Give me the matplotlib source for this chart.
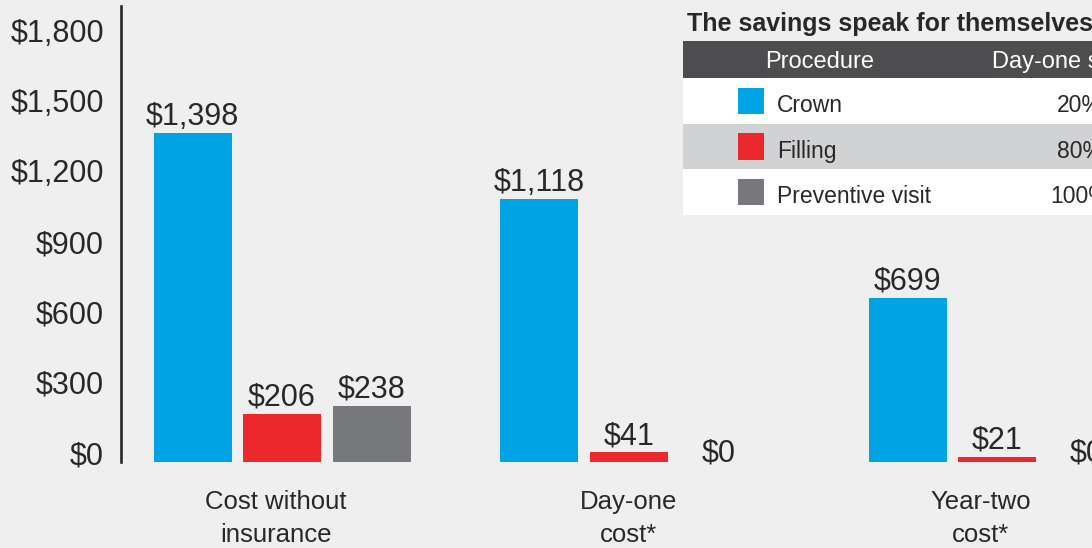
import matplotlib
matplotlib.use("Agg")
import matplotlib.pyplot as plt
import numpy as np
from matplotlib.patches import Rectangle
from matplotlib.transforms import ScaledTranslation

# ---- data ----
categories = ["Cost without\ninsurance", "Day-one\ncost*", "Year-two\ncost*"]
crown = [1398, 1118, 699]
filling = [206, 41, 21]
preventive = [238, 0, 0]
series_names = ["Crown", "Filling", "Preventive visit"]
day_one_savings = [20, 80, 100]
y_ticks = [0, 300, 600, 900, 1200, 1500, 1800]
y_tick_labels = ["$0", "$300", "$600", "$900", "$1,200", "$1,500", "$1,800"]
table_title = "The savings speak for themselves"
table_headers = ["Procedure", "Day-one savings"]

# ---- style ----
BG = "#efefef"
TXT = "#2a2728"
COLORS = ["#00a4e4", "#eb292d", "#77787b"]
plt.rcParams["font.family"] = ["Liberation Sans", "DejaVu Sans"]

W, H = 1092, 548
fig = plt.figure(figsize=(W / 100, H / 100), dpi=100, facecolor=BG)

# main axes: left spine at x=120.7px, from y=6px to y=462px
ax_left, ax_top, ax_bottom = 120.7, 6, 462
ax = fig.add_axes([ax_left / W, (H - ax_bottom) / H, (W - ax_left) / W, (ax_bottom - ax_top) / H])
ax.set_facecolor(BG)
ax.patch.set_alpha(0)

unit = 350.0  # px per group
group_x = np.array([0.0, 0.9914, 2.0429])
label_x = np.array([-0.0171, 0.9914, 1.9971])
offset = 89.5 / unit
width = 78 / unit

for i, vals in enumerate([crown, filling, preventive]):
    xs = group_x + (i - 1) * offset
    ax.bar(xs, vals, width=width, color=COLORS[i], linewidth=0)
    for x, v in zip(xs, vals):
        ax.annotate(f"${v:,}", (x, v), xytext=(0, 6 if v > 0 else 0),
                    textcoords="offset points", ha="center", va="baseline",
                    fontsize=22, color=TXT)

ax.set_xlim((ax_left - 282) / unit, (W - 282) / unit)
ax.set_ylim(0, (ax_bottom - ax_top) / 0.235)

ax.set_yticks(y_ticks)
ax.set_yticklabels(y_tick_labels, fontsize=22, color=TXT)
ax.set_xticks(label_x)
ax.set_xticklabels(categories, fontsize=18.5, color=TXT, linespacing=1.48)
ax.tick_params(axis="y", length=0, pad=12)
ax.tick_params(axis="x", length=0, pad=20)
shift = ScaledTranslation(0, 0.09, fig.dpi_scale_trans)
for lab in ax.get_yticklabels():
    lab.set_transform(lab.get_transform() + shift)

for s in ["top", "right", "bottom"]:
    ax.spines[s].set_visible(False)
ax.spines["left"].set_color(TXT)
ax.spines["left"].set_linewidth(1.9)

# ---- table ----
t_left, t_right, t_top, t_bottom = 683, 1180, 41, 215
tax = fig.add_axes([t_left / W, (H - t_bottom) / H, (t_right - t_left) / W, (t_bottom - t_top) / H])
tax.set_axis_off()
hdr_h = 0.81
n = len(series_names)
tax.set_xlim(0, 1)
tax.set_ylim(hdr_h + n, 0)

row_colors = ["white", "#d1d2d4", "white"]
tax.add_patch(Rectangle((0, 0), 1, hdr_h, color="#4d4d4f", lw=0))
tax.text(0.2757, hdr_h / 2, table_headers[0], ha="center", va="center_baseline",
         fontsize=17, color="white")
tax.text(0.799, hdr_h / 2, table_headers[1], ha="center", va="center_baseline",
         fontsize=17, color="white")
sq_x0 = (738 - t_left) / (t_right - t_left)
sq_w = 26 / (t_right - t_left)
for i, (name, pct) in enumerate(zip(series_names, day_one_savings)):
    y0 = hdr_h + i
    tax.add_patch(Rectangle((0, y0), 1, 1, color=row_colors[i], lw=0))
    tax.add_patch(Rectangle((sq_x0, y0 + 0.5 - 0.285), sq_w, 0.57, color=COLORS[i], lw=0))
    tax.text(0.189, y0 + 0.55, name, ha="left", va="center_baseline", fontsize=16.5, color=TXT)
    tax.text(0.799, y0 + 0.55, f"{pct}%", ha="center", va="center_baseline", fontsize=16.5, color=TXT)

fig.text(687 / W, (H - 31) / H, table_title, ha="left", va="baseline",
         fontsize=18, fontweight="bold", color=TXT)

fig.savefig("out.png", dpi=100, facecolor=BG)
